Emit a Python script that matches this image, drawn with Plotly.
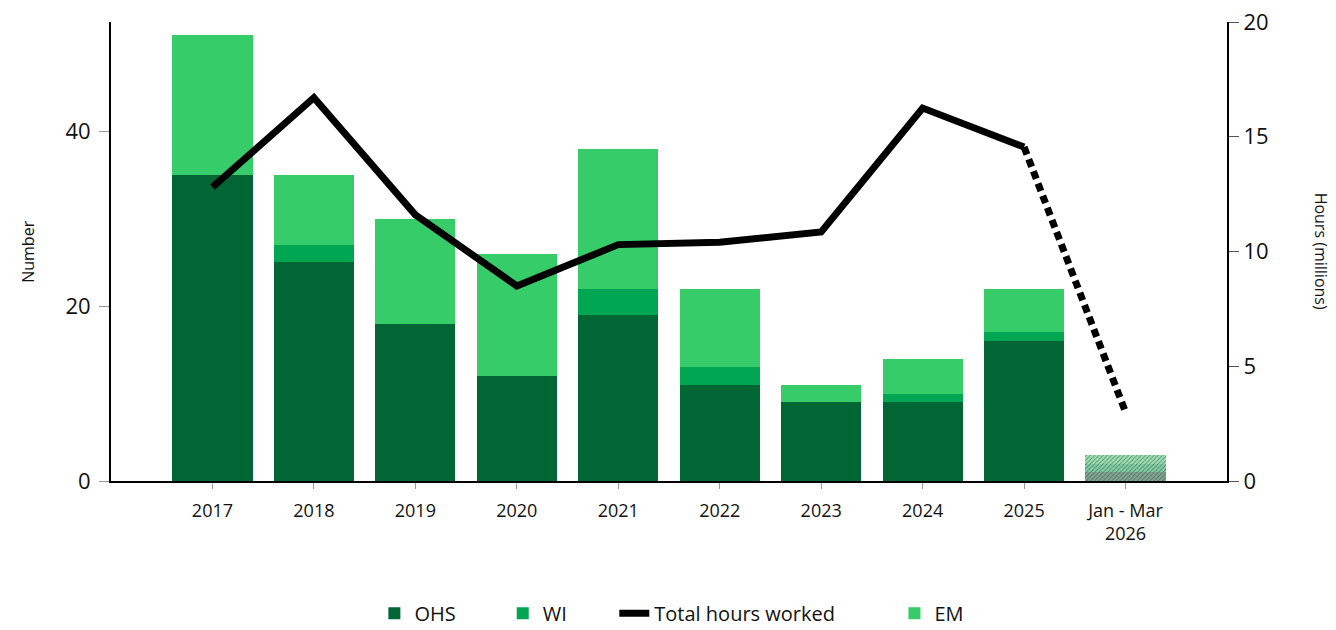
import plotly.graph_objects as go

# Colours picked from the chart
COLORS = {
    'OHS': '#006633',
    'WI': '#00a651',
    'EM': '#37cc6a',
    'Line': '#000000',
    'Text': '#111111',
}
# lighter tints used for the partial-year (hatched) column
TINTS = {
    'OHS': '#7fa892',
    'WI': '#7fd2a6',
    'EM': '#9be6b4',
}

categories = ['2017', '2018', '2019', '2020', '2021', '2022', '2023', '2024', '2025', 'Jan - Mar<br>2026']
ohs = [35, 25, 18, 12, 19, 11, 9, 9, 16, 1]
wi = [0, 2, 0, 0, 3, 2, 0, 1, 1, 1]
em = [16, 8, 12, 14, 16, 9, 2, 4, 5, 1]
hours = [12.8, 16.7, 11.6, 8.5, 10.3, 10.4, 10.85, 16.25, 14.55, 3.0]

x = list(range(len(categories)))
n_full = len(categories) - 1  # last column is a partial year (hatched)


def bar_style(key):
    # full years solid, partial year hatched
    return dict(
        color=[COLORS[key]] * n_full + [TINTS[key]],
        line=dict(width=0),
        pattern=dict(
            shape=[''] * n_full + ['/'],
            fgcolor='white',
            fgopacity=0.6,
            size=3,
            solidity=0.3,
            fillmode='overlay',
        ),
    )


fig = go.Figure()

fig.add_trace(go.Bar(x=x, y=ohs, name='OHS', marker=bar_style('OHS'), legend='legend'))
fig.add_trace(go.Bar(x=x, y=wi, name='WI', marker=bar_style('WI'), legend='legend2'))
fig.add_trace(go.Bar(x=x, y=em, name='EM', marker=bar_style('EM'), legend='legend4'))

# solid line for full years, dotted to the partial year
fig.add_trace(go.Scatter(x=x[:n_full], y=hours[:n_full], name='Total hours worked', mode='lines',
                         line=dict(color=COLORS['Line'], width=7), yaxis='y2', legend='legend3'))
fig.add_trace(go.Scatter(x=x[n_full - 1:], y=hours[n_full - 1:], mode='lines', showlegend=False,
                         line=dict(color=COLORS['Line'], width=7, dash='8px,5px'), yaxis='y2'))

legend_common = dict(orientation='h', y=-0.288, yanchor='middle', xanchor='left',
                     font=dict(size=20), bgcolor='rgba(0,0,0,0)')

fig.update_layout(
    width=1336, height=630,
    # page body has an 8px offset, so margins are shifted to compensate
    margin=dict(l=103, r=117, t=14, b=157, autoexpand=False),
    barmode='stack',
    bargap=0.21,
    plot_bgcolor='white',
    paper_bgcolor='white',
    font=dict(family='Open Sans, Liberation Sans, sans-serif', color=COLORS['Text'], size=15),
    showlegend=True,
    legend=dict(x=0.236, **legend_common),
    legend2=dict(x=0.351, **legend_common),
    legend3=dict(x=0.451, **legend_common),
    legend4=dict(x=0.702, **legend_common),
    xaxis=dict(
        range=[-1, 10], tickmode='array', tickvals=x, ticktext=categories,
        showline=True, linecolor='black', linewidth=2,
        ticks='outside', tickcolor='#999999', ticklen=6, ticklabelstandoff=6,
        tickfont=dict(size=18), showgrid=False, zeroline=False, automargin=False,
    ),
    yaxis=dict(
        range=[0, 52.5], tickvals=[0, 20, 40],
        showline=True, linecolor='black', linewidth=2,
        ticks='outside', tickcolor='#999999', ticklen=10, ticklabelstandoff=4,
        tickfont=dict(size=22), showgrid=False, zeroline=False, automargin=False,
    ),
    yaxis2=dict(
        range=[0, 20], tickvals=[0, 5, 10, 15, 20], overlaying='y', side='right',
        showline=True, linecolor='black', linewidth=2,
        ticks='outside', tickcolor='#555555', ticklen=10,
        tickfont=dict(size=22), showgrid=False, zeroline=False, automargin=False,
        ticklabeloverflow='allow',
    ),
    annotations=[
        dict(text='Number', textangle=-90, xref='paper', yref='paper', x=-0.075, y=0.5,
             xanchor='center', yanchor='middle', showarrow=False, font=dict(size=16)),
        dict(text='Hours (millions)', textangle=90, xref='paper', yref='paper', x=1.085, y=0.5,
             xanchor='center', yanchor='middle', showarrow=False, font=dict(size=16)),
    ],
)

fig.write_html("out.html")
